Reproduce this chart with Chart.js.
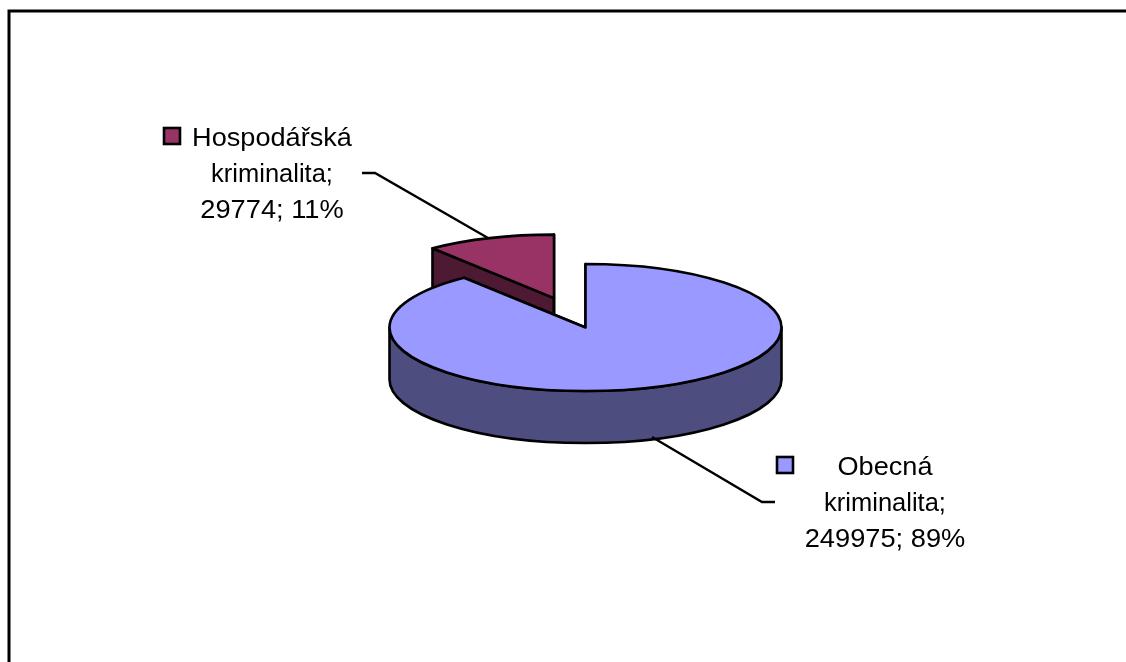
<!DOCTYPE html>
<html lang="cs">
<head>
<meta charset="utf-8">
<title>Kriminalita</title>
<script src="https://cdn.jsdelivr.net/npm/chart.js@4/dist/chart.umd.js"></script>
<style>
  html, body { margin: 0; padding: 0; background: #fff; overflow: hidden; }
  canvas { display: block; }
</style>
</head>
<body>
<canvas id="graf" width="1126" height="662"></canvas>
<script>
// === DATA ===
const kategorie = ["Obecná kriminalita", "Hospodářská kriminalita"];
const hodnoty = [249975, 29774];
const procenta = ["89%", "11%"];
const barvy = ["#9999FF", "#993366"];
const barvyBoku = ["#4D4D80", "#4D1933"];

// === VZHLED ===
const POMER_Y = 0.324;      // zploštění elipsy
const HLOUBKA = 52;         // výška válce
const VYSUNUTI = [0, 96];   // vysunutí výseče (v nezploštěných px)
const SIRKA_RADKU = [1.085, 1.02, 1.09]; // text je v originále roztažený

const popisky = [
  { stred: 885, radky: [475, 511, 547], znacka: [777, 457], cara: [[652, 437], [762, 502], [775, 502]] },
  { stred: 272, radky: [146, 182, 218], znacka: [164, 128], cara: [[488, 238], [375, 173], [362, 173]] }
];

function vysec(ctx, arc, i) {
  const ry = arc.outerRadius * POMER_Y;
  const stred = (arc.startAngle + arc.endAngle) / 2;
  const x = arc.x + Math.cos(stred) * VYSUNUTI[i];
  const y = arc.y + Math.sin(stred) * VYSUNUTI[i] * POMER_Y;
  const rx = arc.outerRadius;

  ctx.lineWidth = 2.6;
  ctx.lineJoin = "round";
  ctx.strokeStyle = "#000";

  // boky rezu
  ctx.fillStyle = barvyBoku[i];
  [arc.startAngle, arc.endAngle].forEach(function (a) {
    const kx = x + Math.cos(a) * rx;
    const ky = y + Math.sin(a) * ry;
    ctx.beginPath();
    ctx.moveTo(x, y);
    ctx.lineTo(kx, ky);
    ctx.lineTo(kx, ky + HLOUBKA);
    ctx.lineTo(x, y + HLOUBKA);
    ctx.closePath();
    ctx.fill();
    ctx.stroke();
  });

  // přední plášť (jen úhly 0..PI jsou vidět)
  const od = Math.max(0, arc.startAngle);
  const po = Math.min(Math.PI, arc.endAngle);
  if (po > od) {
    ctx.beginPath();
    ctx.ellipse(x, y, rx, ry, 0, od, po);
    ctx.ellipse(x, y + HLOUBKA, rx, ry, 0, po, od, true);
    ctx.closePath();
    ctx.fill();
    ctx.stroke();
  }

  // horní plocha
  ctx.fillStyle = barvy[i];
  ctx.beginPath();
  ctx.moveTo(x, y);
  ctx.ellipse(x, y, rx, ry, 0, arc.startAngle, arc.endAngle);
  ctx.closePath();
  ctx.fill();
  ctx.stroke();
}

// Koláč 3D - Chart.js spočítá úhly a poloměr, tady se jen kreslí jako elipsa
const kolac3d = {
  id: "kolac3d",
  beforeDraw(chart) {
    const ctx = chart.ctx;
    ctx.save();
    ctx.strokeStyle = "#000";
    ctx.lineWidth = 3;
    ctx.beginPath();
    ctx.moveTo(9, 662);
    ctx.lineTo(9, 11);
    ctx.lineTo(1126, 11);
    ctx.stroke();
    ctx.restore();
  },
  beforeDatasetDraw(chart, args) {
    const ctx = chart.ctx;
    const arcs = chart.getDatasetMeta(args.index).data;
    ctx.save();
    // vysunutá výseč leží vzadu, kreslí se první
    for (let i = arcs.length - 1; i >= 0; i--) {
      vysec(ctx, arcs[i], i);
    }
    ctx.restore();
    return false;
  },
  afterDraw(chart) {
    const ctx = chart.ctx;
    ctx.save();
    popisky.forEach(function (p, i) {
      // odkazová čára
      ctx.strokeStyle = "#000";
      ctx.lineWidth = 2.4;
      ctx.beginPath();
      p.cara.forEach(function (b, j) {
        if (j === 0) ctx.moveTo(b[0], b[1]);
        else ctx.lineTo(b[0], b[1]);
      });
      ctx.stroke();

      // značka legendy
      ctx.lineWidth = 2.6;
      ctx.fillStyle = barvy[i];
      ctx.fillRect(p.znacka[0], p.znacka[1], 16, 16);
      ctx.strokeRect(p.znacka[0], p.znacka[1], 16, 16);

      // text
      const slova = kategorie[i].split(" ");
      const radky = [slova[0], slova[1] + ";", hodnoty[i] + "; " + procenta[i]];
      ctx.fillStyle = "#000";
      ctx.font = '25px "Liberation Sans"';
      ctx.textAlign = "center";
      ctx.textBaseline = "alphabetic";
      radky.forEach(function (t, j) {
        ctx.save();
        ctx.translate(p.stred, p.radky[j]);
        ctx.scale(SIRKA_RADKU[j], 1);
        ctx.fillText(t, 0, 0);
        ctx.restore();
      });
    });
    ctx.restore();
  }
};

new Chart(document.getElementById("graf"), {
  type: "pie",
  data: {
    labels: kategorie,
    datasets: [{
      data: hodnoty,
      backgroundColor: barvy,
      radius: 196
    }]
  },
  options: {
    responsive: false,
    animation: false,
    layout: { padding: { left: 45, bottom: 7 } },
    plugins: {
      legend: { display: false },
      tooltip: { enabled: false }
    }
  },
  plugins: [kolac3d]
});
</script>
</body>
</html>
